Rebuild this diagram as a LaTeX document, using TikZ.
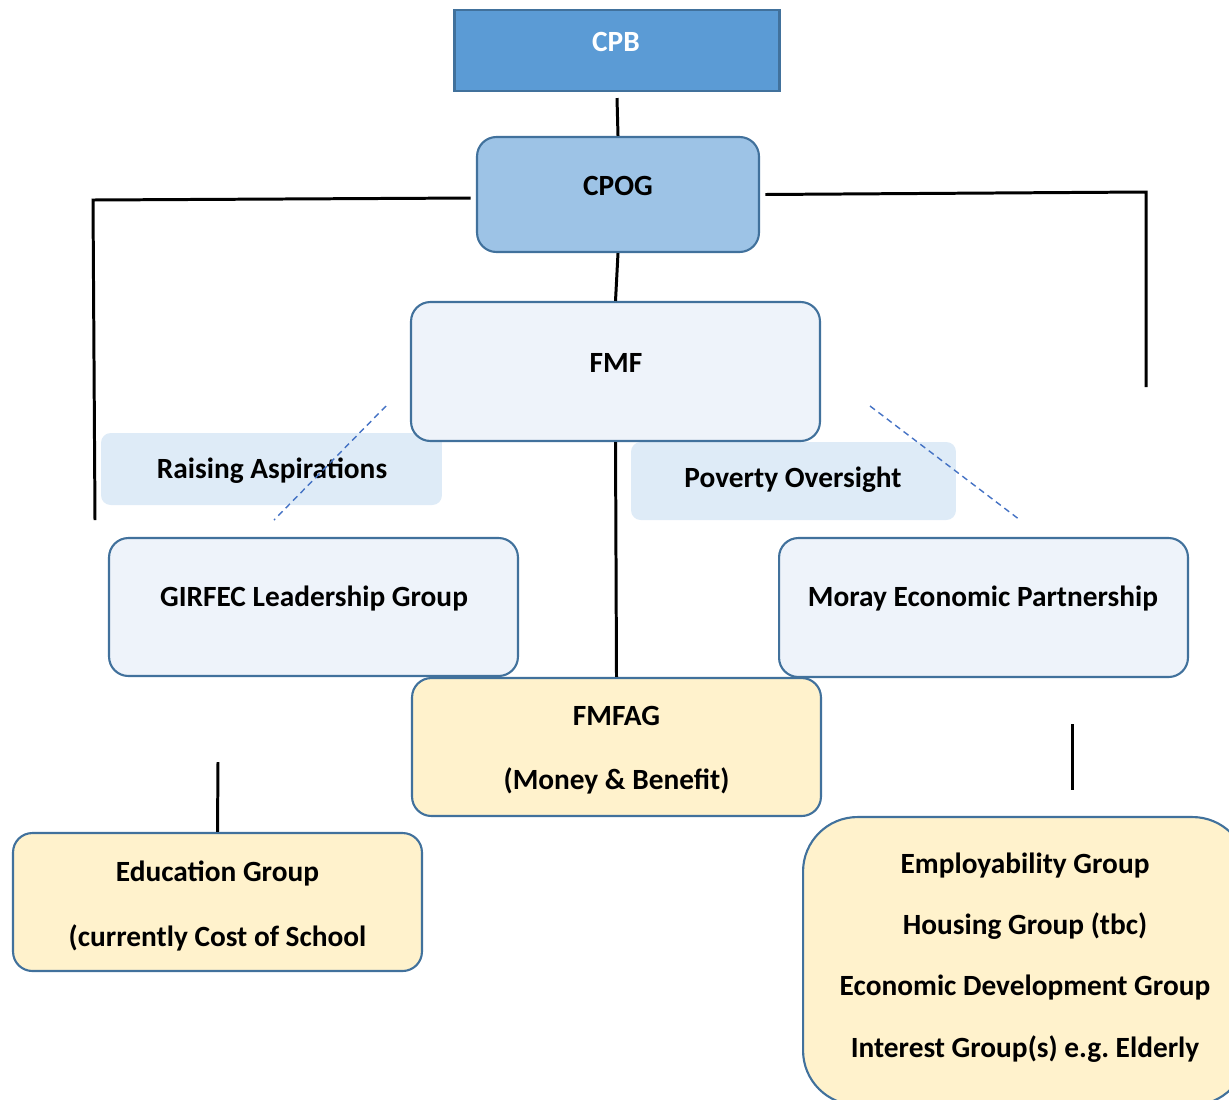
\documentclass[tikz,border=0pt]{standalone}
\usepackage{fontspec}
\setmainfont{Carlito}
\usepackage{xcolor}
\usepackage{tikz}
\frenchspacing
\definecolor{boardblue}{HTML}{5B9BD5}
\definecolor{edgeblue}{HTML}{41719C}
\definecolor{cpogblue}{HTML}{9DC3E6}
\definecolor{paleblue}{HTML}{EEF3FA}
\definecolor{themeblue}{HTML}{DEEBF7}
\definecolor{groupyellow}{HTML}{FFF2CC}
\definecolor{hintblue}{HTML}{4472C4}
\newcommand{\boxfont}{\fontsize{16.7}{20}\selectfont\bfseries}
\tikzset{
  % --- boxes ---------------------------------------------------------------
  unit/.style={rectangle,draw=edgeblue,line width=1.2pt,inner sep=0pt},
  board/.style={unit,fill=boardblue},
  forum/.style={unit,rounded corners=11pt},
  theme/.style={rectangle,fill=themeblue,rounded corners=5.5pt,inner sep=0pt},
  grp/.style={forum,fill=groupyellow},
  lbl/.style={font=\boxfont,align=center,inner sep=0pt},
  % --- connectors ----------------------------------------------------------
  link/.style={black,line width=1.7pt},
  hint/.style={hintblue,line width=0.8pt,dash pattern=on 3.5pt off 2.5pt},
}

\begin{document}
\begin{tikzpicture}[x=0.02cm, y=-0.02cm]
  \useasboundingbox (0,0) rectangle (1229,1099);
  \clip (0,0) rectangle (1229,1099);

  % ---- top of the chain ----
  \node[board,minimum width=6.5cm,minimum height=1.62cm] (cpb) at (617,50.5) {};
  \node[lbl,text=white] (cpbtxt) at (616,42) {CPB};
  \node[forum,fill=cpogblue,minimum width=5.64cm,minimum height=2.3cm] (cpog) at (618,194.5) {};
  \node[lbl] (cpogtxt) at (618,185.5) {CPOG};

  % ---- themes (drawn under FMF) ----
  \node[theme,minimum width=6.82cm,minimum height=1.44cm] (raise) at (271.5,469) {};
  \node[lbl] (raisetxt) at (272,470.5) {Raising Aspirations};
  \node[theme,minimum width=6.5cm,minimum height=1.56cm] (pov) at (793.5,481) {};
  \node[lbl] (povtxt) at (793,479.5) {Poverty Oversight};

  % ---- forum and partnerships ----
  \node[forum,fill=paleblue,minimum width=8.18cm,minimum height=2.78cm] (fmf) at (615.5,371.5) {};
  \node[lbl] (fmftxt) at (616,362.5) {FMF};
  \node[forum,fill=paleblue,minimum width=8.18cm,minimum height=2.76cm] (girfec) at (313.5,607) {};
  \node[lbl] (girfectxt) at (314,598.5) {GIRFEC Leadership Group};
  \node[forum,fill=paleblue,minimum width=8.18cm,minimum height=2.78cm] (moray) at (983.5,607.5) {};
  \node[lbl] (moraytxt) at (983,598.5) {Moray Economic Partnership};

  % ---- working groups ----
  \node[grp,minimum width=8.18cm,minimum height=2.76cm] (fmfag) at (616.5,747) {};
  \node[lbl] (fmfagtxt) at (616.5,750.5) {FMFAG\\[16.3pt](Money \& Benefit)};
  \node[grp,minimum width=8.18cm,minimum height=2.76cm] (edu) at (217.5,902) {};
  \node[lbl] (edutxt) at (217.5,906) {Education Group\\[16.8pt](currently Cost of School};
  \node[grp,rounded corners=31pt,minimum width=8.88cm,minimum height=5.76cm] (econ) at (1025,961) {};
  \node[lbl] (econtxt) at (1025,957.5) {Employability Group\\[14.9pt]Housing Group (tbc)\\[14.9pt]Economic Development Group\\[14.9pt]Interest Group(s) e.g. Elderly};

  % ---- loose ends ----
  \coordinate (ltop) at (93,200);
  \coordinate (lend) at (95,520);
  \coordinate (rtop) at (1146,192);
  \coordinate (rend) at (1146,387);
  \coordinate (edutop) at (218,762);
  \coordinate (econtop) at (1072,724);
  \coordinate (econend) at (1072,790);
  \coordinate (hla) at (386,406);
  \coordinate (hlb) at (274,520);
  \coordinate (hra) at (870,406);
  \coordinate (hrb) at (1020,520);

  \draw[link] ([yshift=-3.4pt]cpb.south) -- (cpog.north);
  \draw[link] (cpog.south) -- (fmf.north);
  \draw[link] ([xshift=-3pt,yshift=-2pt]cpog.west) -- (ltop) -- (lend);
  \draw[link] ([xshift=3pt]cpog.east) -- (rtop) -- (rend);
  \draw[link] (fmf.south) -- (fmfag.north);
  \draw[link] (edutop) -- (edu.north);
  \draw[link] (econtop) -- (econend);

  % ---- dashed hints ----
  \draw[hint] (hla) -- (hlb);
  \draw[hint] (hra) -- (hrb);
\end{tikzpicture}
\end{document}
